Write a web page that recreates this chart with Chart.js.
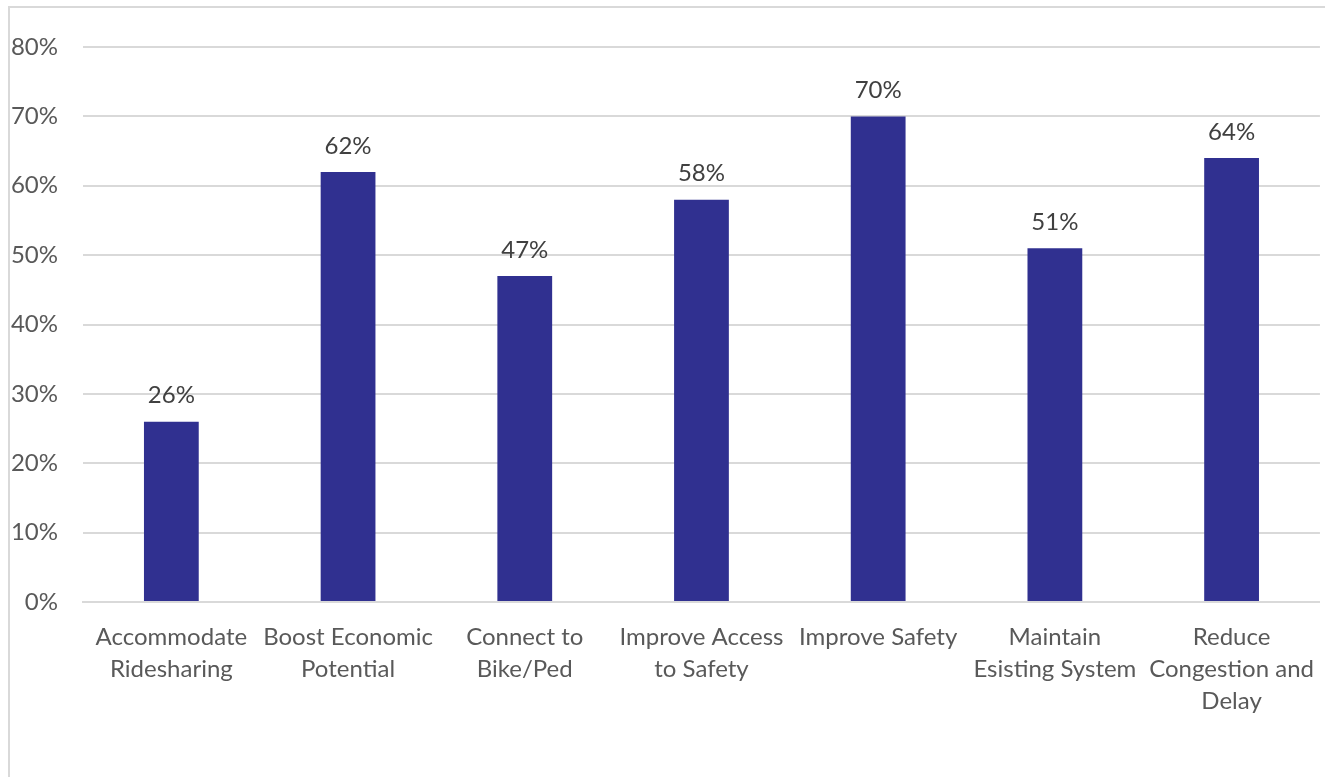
<!DOCTYPE html>
<html>
<head>
<meta charset="utf-8">
<script src="https://cdn.jsdelivr.net/npm/chart.js@4"></script>
<style>
  html, body { margin: 0; padding: 0; background: #fff; }
  #wrap { position: relative; width: 1325px; height: 777px; }
</style>
</head>
<body>
<div id="wrap"><canvas id="barChart"></canvas></div>
<script>
// chart data
const categories = [
    ['Accommodate', 'Ridesharing'],
    ['Boost Economic', 'Potential'],
    ['Connect to', 'Bike/Ped'],
    ['Improve Access', 'to Safety'],
    'Improve Safety',
    ['Maintain', 'Esisting System'],
    ['Reduce', 'Congestion and', 'Delay']
];
const shares = [0.26, 0.62, 0.47, 0.58, 0.70, 0.51, 0.64];
const yTicks = [0, 0.1, 0.2, 0.3, 0.4, 0.5, 0.6, 0.7, 0.8];

const FONT = 'Lato, "Open Sans", sans-serif';

// frame around the chart, like the exported office chart
const framePlugin = {
    id: 'frame',
    beforeDraw(chart) {
        const ctx = chart.ctx;
        ctx.save();
        ctx.strokeStyle = '#d9d9d9';
        ctx.lineWidth = 2;
        ctx.strokeRect(9, 7, chart.width + 20, chart.height + 20);
        ctx.restore();
    }
};

// value labels on top of the bars
const valueLabels = {
    id: 'valueLabels',
    afterDatasetsDraw(chart) {
        const ctx = chart.ctx;
        const meta = chart.getDatasetMeta(0);
        ctx.save();
        ctx.font = '24px ' + FONT;
        ctx.fillStyle = '#404040';
        ctx.textAlign = 'center';
        ctx.textBaseline = 'bottom';
        meta.data.forEach((bar, i) => {
            ctx.fillText(Math.round(shares[i] * 100) + '%', bar.x, bar.y - 14);
        });
        ctx.restore();
    }
};

const ctx = document.getElementById('barChart');
new Chart(ctx, {
    type: 'bar',
    data: {
        labels: categories,
        datasets: [{
            data: shares,
            backgroundColor: '#303090',
            barPercentage: 0.31,
            categoryPercentage: 1.0
        }]
    },
    options: {
        responsive: true,
        maintainAspectRatio: false,
        animation: false,
        layout: {
            padding: { top: 47, right: 0, bottom: 49, left: 0 }
        },
        plugins: {
            legend: { display: false },
            tooltip: { enabled: false }
        },
        scales: {
            x: {
                grid: { display: false },
                border: { color: '#d9d9d9', width: 2 },
                ticks: {
                    color: '#595959',
                    font: { family: FONT, size: 24, lineHeight: 1.333 },
                    padding: 11,
                    maxRotation: 0,
                    autoSkip: false
                }
            },
            y: {
                min: 0,
                max: 0.8,
                afterBuildTicks(axis) {
                    axis.ticks = yTicks.map(v => ({ value: v }));
                },
                afterFit(axis) {
                    axis.width = 83;
                },
                grid: { color: '#d9d9d9', lineWidth: 2, drawTicks: false },
                border: { display: false },
                ticks: {
                    color: '#595959',
                    font: { family: FONT, size: 24 },
                    padding: 25,
                    callback: v => Math.round(v * 100) + '%'
                }
            }
        }
    },
    plugins: [framePlugin, valueLabels]
});
</script>
</body>
</html>
